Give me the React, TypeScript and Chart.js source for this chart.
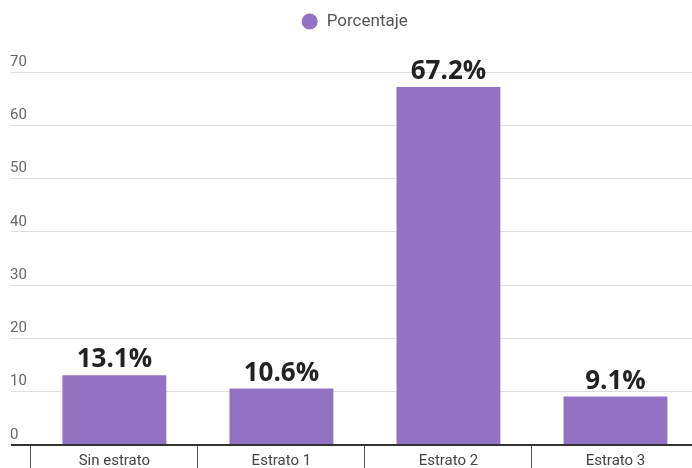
import React, { useEffect, useRef } from "react";
import { Chart, registerables } from "chart.js";

Chart.register(...registerables);

const categories = ["Sin estrato", "Estrato 1", "Estrato 2", "Estrato 3"];
const porcentaje = [13.1, 10.6, 67.2, 9.1];
const seriesLabel = "Porcentaje";
const yTicks = [0, 10, 20, 30, 40, 50, 60, 70];

const BAR_COLOR = "#9273c3";

const valueLabels = {
  id: "valueLabels",
  afterDatasetsDraw(chart: any) {
    const ctx = chart.ctx;
    const meta = chart.getDatasetMeta(0);
    const data = chart.data.datasets[0].data as number[];
    ctx.save();
    ctx.font = "bold 26px 'Open Sans', 'Noto Sans', sans-serif";
    ctx.fillStyle = "#222222";
    ctx.textAlign = "center";
    ctx.textBaseline = "alphabetic";
    meta.data.forEach((bar: any, i: number) => {
      ctx.fillText(data[i].toFixed(1) + "%", bar.x, bar.y - 8);
    });
    ctx.restore();
  },
};

const legendSpacer = {
  id: "legendSpacer",
  beforeInit(chart: any) {
    const legend = chart.legend;
    if (!legend) return;
    const origFit = legend.fit;
    legend.fit = function () {
      origFit.call(this);
      this.height += 32;
    };
  },
};

export default function App() {
  const ref = useRef<HTMLCanvasElement>(null);
  useEffect(() => {
    if (!ref.current) return;
    const chart = new Chart(ref.current, {
      type: "bar",
      data: {
        labels: categories,
        datasets: [
          {
            label: seriesLabel,
            data: porcentaje,
            backgroundColor: BAR_COLOR,
            borderWidth: 0,
            categoryPercentage: 1,
            barPercentage: 0.622,
          },
        ],
      },
      options: {
        responsive: false,
        animation: false,
        layout: { padding: { left: 10, right: 1, top: 3, bottom: 23 } },
        plugins: {
          tooltip: { enabled: false },
          legend: {
            position: "top",
            align: "center",
            labels: {
              usePointStyle: true,
              pointStyle: "circle",
              boxHeight: 11.3,
              boxWidth: 19,
              color: "#555555",
              padding: 10,
              font: { family: "Roboto", size: 17 },
            },
          },
        },
        scales: {
          x: {
            grid: {
              display: true,
              offset: true,
              drawOnChartArea: false,
              drawTicks: true,
              tickLength: 50,
              color: "#555555",
              lineWidth: 1,
            },
            border: { display: false },
            ticks: {
              mirror: true,
              color: "#444444",
              padding: -25,
              font: { family: "Roboto", size: 15, lineHeight: 1.2 },
              maxRotation: 0,
              autoSkip: false,
            },
          },
          y: {
            min: 0,
            max: 70,
            afterBuildTicks(scale: any) {
              scale.ticks = yTicks.map((v) => ({ value: v }));
            },
            grid: {
              drawTicks: true,
              tickLength: 20,
              color: (c: any) => (c.tick && c.tick.value === 0 ? "#333333" : "#dddddd"),
              lineWidth: (c: any) => (c.tick && c.tick.value === 0 ? 2 : 1),
            },
            border: { display: false },
            ticks: {
              crossAlign: "far",
              padding: -8,
              labelOffset: -10,
              color: "#666666",
              font: { family: "Roboto", size: 15, lineHeight: 1.2 },
            },
          },
        },
      },
      plugins: [valueLabels, legendSpacer],
    });
    return () => chart.destroy();
  }, []);
  return (
    <div style={{ position: "fixed", left: 0, top: 0, width: 692, height: 468, overflow: "hidden", background: "#fff" }}>
      <canvas ref={ref} width={700} height={468} style={{ position: "absolute", left: 0, top: 0, width: 700, height: 468 }} />
    </div>
  );
}
